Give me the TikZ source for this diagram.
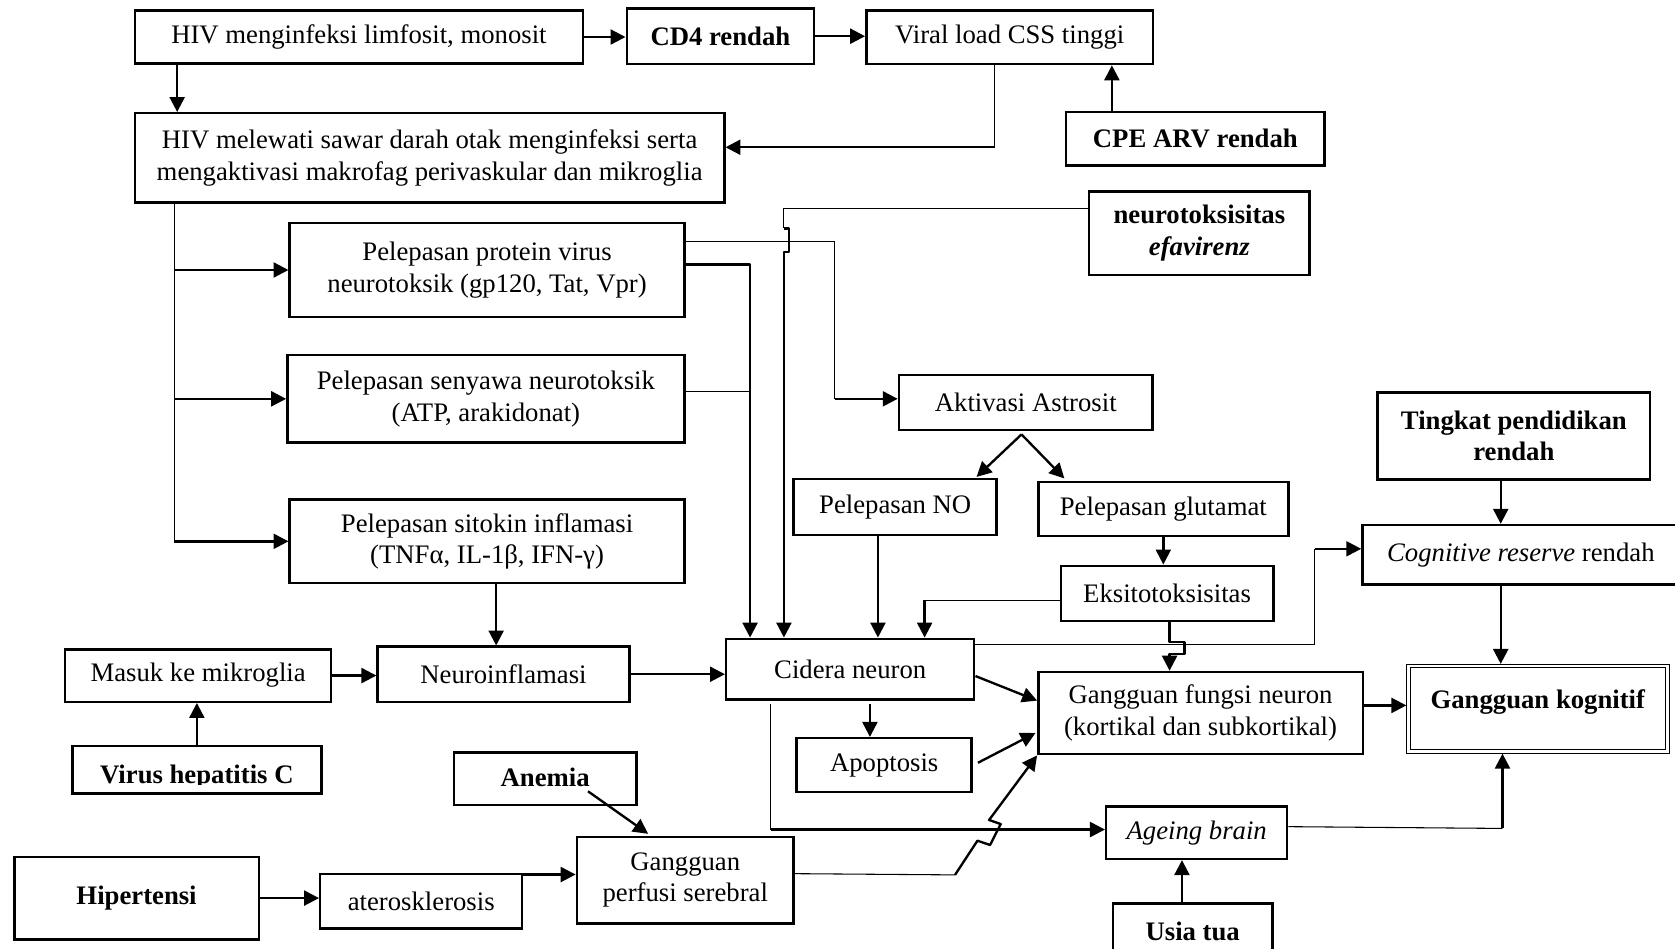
\documentclass[tikz,border=0pt]{standalone}
\usepackage{fontspec}
\setmainfont{Liberation Serif}
\usetikzlibrary{arrows.meta,calc}
\tikzset{
  bx/.style={draw, rectangle, line width=1.15pt, inner sep=0pt, align=center, font=\fontsize{12.5}{14.8}\selectfont},
  txt/.style={inner sep=0pt, font=\fontsize{12.5}{14.8}\selectfont},
  arr/.style={line width=1.1pt, line join=round, -{Triangle[length=7pt,width=7pt]}},
  thinl/.style={line width=0.5pt},
}
\newcommand\mybox[7][]{\node[bx,#1,minimum width={0.5pt*(#5-#3)},minimum height={0.5pt*(#6-#4)}] (#2) at ({(#3+#5)/2},{(#4+#6)/2}) {#7};}
\begin{document}
\begin{tikzpicture}[x=0.5pt,y=-0.5pt]
\useasboundingbox (0,0) rectangle (1568,888);
\fill[white] (0,0) rectangle (1568,888);
% boxes
\mybox{hiv1}{126.4}{10}{545.6}{59.3}{HIV menginfeksi limfosit, monosit}
\mybox{cd4}{586.7}{7.8}{762}{60}{\textbf{CD4 rendah}}
\mybox{viral}{811}{10}{1079.5}{60}{Viral load CSS tinggi}
\mybox{cpe}{998}{105}{1240}{155}{\textbf{CPE ARV rendah}}
\mybox{hiv2}{126.4}{106}{678}{189.7}{HIV melewati sawar darah otak menginfeksi serta\\mengaktivasi makrofag perivaskular dan mikroglia}
\mybox{efv}{1019.5}{179.4}{1226}{257.5}{\textbf{neurotoksisitas}\\\textbf{\textit{efavirenz}}}
\mybox{prot}{271.2}{209}{640.7}{296.5}{Pelepasan protein virus\\neurotoksik (gp120, Tat, Vpr)}
\mybox{seny}{269}{332.3}{640.7}{414.4}{Pelepasan senyawa neurotoksik\\(ATP, arakidonat)}
\mybox{sito}{271.2}{467.5}{640.7}{546}{Pelepasan sitokin inflamasi\\(TNFα, IL-1β, IFN-γ)}
\mybox{astro}{841.5}{351}{1079}{402.5}{Aktivasi Astrosit}
\mybox{no}{743}{448.6}{933}{501}{Pelepasan NO}
\mybox{glut}{972}{451}{1206}{502}{Pelepasan glutamat}
\mybox{eks}{993}{529.6}{1192}{581.4}{Eksitotoksisitas}
\mybox{ting}{1289.7}{367.6}{1544.6}{448.7}{\textbf{Tingkat pendidikan}\\\textbf{rendah}}
\mybox{cogn}{1275.4}{491.5}{1572}{547}{\textit{Cognitive reserve} rendah}
\mybox{cid}{679.8}{598}{912}{654.6}{Cidera neuron}
\mybox{masuk}{61}{607.9}{310}{656.9}{Masuk ke mikroglia}
\mybox{neuro}{353.5}{605.4}{589.2}{656.9}{Neuroinflamasi}
\mybox{vhc}{67.7}{698.4}{300.9}{742.7}{}
\mybox{gf}{972}{629}{1275.7}{706}{Gangguan fungsi neuron\\(kortikal dan subkortikal)}
\mybox[line width=0.5pt]{gk}{1317}{622}{1562.5}{705}{}
\draw[line width=0.5pt] ($(gk.south west)+(3.5,-3.5)$) rectangle ($(gk.north east)+(-3.5,3.5)$);
\mybox{apo}{745.8}{691}{909.6}{741.5}{Apoptosis}
\mybox{anem}{425.2}{704.3}{595.7}{753.6}{}
\mybox{age}{1035.5}{755}{1205}{804}{\textit{Ageing brain}}
\mybox{perf}{540}{783.3}{743}{864.4}{Gangguan\\perfusi serebral}
\mybox{hip}{13.5}{802}{242.2}{879.4}{\textbf{Hipertensi}}
\mybox{ater}{299.8}{818.2}{488.9}{869}{aterosklerosis}
\mybox{usia}{1042}{845.6}{1191}{895}{}
% texts placed separately
\node[txt,anchor=base] (gkt) at (1439.7,663) {\textbf{Gangguan kognitif}};
\begin{scope}
  \clip (60,690) rectangle (310,734);
  \node[txt,anchor=base] (vhct) at (184.3,733) {\textbf{Virus hepatitis C}};
\end{scope}
\node[txt,anchor=base] (anemt) at (510.3,736.4) {\textbf{Anemia}};
\node[txt,anchor=base] (usiat) at (1116.5,880) {\textbf{Usia tua}};
% top row
\draw[arr] (hiv1.east) -- (hiv1.east -| cd4.west);
\draw[arr] (cd4.east) -- (cd4.east -| viral.west);
\coordinate (a1) at ($(hiv1.south west)+(40.6,0)$);
\draw[arr] (a1) -- (a1 |- hiv2.north);
\coordinate (b1) at ($(viral.south west)+(121.5,0)$);
\coordinate (b2) at ($(hiv2.north east)+(0,33)$);
\draw[thinl] (b1) -- (b1 |- b2);
\draw[arr] (b1 |- b2) -- (b2);
\coordinate (c1) at ($(cpe.north west)+(44,0)$);
\draw[arr] (c1) -- (c1 |- viral.south);
% trunk
\coordinate (t0) at ($(hiv2.south west)+(38.1,0)$);
\draw[thinl] (t0) -- (t0 |- sito.west);
\draw[arr] (t0 |- prot.west) -- (prot.west);
\draw[arr] (t0 |- seny.west) -- (seny.west);
\draw[arr] (t0 |- sito.west) -- (sito.west);
\coordinate (s1) at ($(sito.south west)+(194.4,0)$);
\draw[arr] (s1) -- (s1 |- neuro.north);
\draw[arr] (masuk.east) -- (masuk.east -| neuro.west);
\draw[arr] (neuro.east) -- (neuro.east -| cid.west);
\draw[arr] (vhc.north) -- (vhc.north |- masuk.south);
% protein -> cidera, senyawa join
\coordinate (p1) at ($(prot.north east)+(0,39.7)$);
\coordinate (p2) at ($(cid.north west)+(23.5,0)$);
\draw[arr] (p1) -| (p2);
\coordinate (p3) at ($(seny.north east)+(0,35.3)$);
\draw[thinl] (p3) -- (p3 -| p2);
% protein -> astrosit
\coordinate (p4) at ($(prot.north east)+(0,18.2)$);
\coordinate (p5) at ($(astro.north west)+(-58.9,23.5)$);
\draw[thinl] (p4) -| (p5);
\draw[arr] (p5) -- (p5 -| astro.west);
% efavirenz -> cidera with hop
\coordinate (e1) at ($(efv.north west)+(0,17.2)$);
\coordinate (e2) at ($(cid.north west)+(55.2,0)$);
\coordinate (e3) at (e2 |- e1);
\draw[thinl] (e1) -- (e3) -- ++(0,18.4);
\draw[arr] ($(e3)+(0,18.4)$) -- ++(4.5,0) -- ++(0,22) -- ++(-4.5,0) -- (e2);
% astrosit
\coordinate (as) at ($(astro.south)+(-4,3)$);
\draw[arr] (as) -- ($(no.north east)+(-20,-1)$);
\draw[arr] (as) -- ($(glut.north west)+(25.5,-2)$);
\draw[arr] (glut.south) -- (glut.south |- eks.north);
\coordinate (n1) at ($(no.south west)+(80,0)$);
\draw[arr] (n1) -- (n1 |- cid.north);
\coordinate (k1) at ($(cid.north west)+(186.9,-35)$);
\draw[thinl] (k1 -| eks.west) -- (k1);
\draw[arr] (k1) -- (k1 |- cid.north);
\coordinate (g0) at ($(eks.south west)+(103,0)$);
\draw[arr] (g0) -- ++(0,18.4) -- ++(14,0) -- ++(0,11.2) -- ++(-14,0) -- (g0 |- gf.north);
% cidera -> cognitive reserve
\coordinate (q0) at ($(cid.north east)+(0,6.8)$);
\coordinate (q1) at ($(cogn.north west)+(-43.7,23.4)$);
\draw[thinl] (q0) -| (q1);
\draw[arr] (q1) -- (q1 -| cogn.west);
% right column
\coordinate (r1) at ($(ting.south west)+(116.3,0)$);
\draw[arr] (r1) -- (r1 |- cogn.north);
\coordinate (r2) at ($(cogn.south west)+(130.6,0)$);
\draw[arr] (r2) -- (r2 |- gk.north);
\coordinate (r3) at ($(gf.north east)+(0,32.5)$);
\draw[arr] (r3) -- (r3 -| gk.west);
% cidera outputs
\draw[arr] ($(cid.north east)+(0,36)$) -- ($(gf.north west)+(0,28)$);
\coordinate (u1) at ($(cid.south west)+(135.7,3.4)$);
\draw[arr] (u1) -- (u1 |- apo.north);
\draw[arr] ($(apo.north east)+(4.7,24.2)$) -- ($(gf.south west)+(-1.5,-21)$);
\coordinate (v1) at ($(cid.south west)+(42.9,3)$);
\coordinate (v2) at ($(age.north west)+(0,22.7)$);
\draw[thinl] (v1) -- (v1 |- v2);
\draw[arr] (v1 |- v2) -- (v2);
% perfusi zigzag
\coordinate (z0) at ($(perf.north east)+(0,35.7)$);
\coordinate (z1) at (894,819);
\coordinate (z2) at (915,787);
\coordinate (z3) at (926.8,791);
\coordinate (z4) at (936.8,771.4);
\coordinate (z5) at (925.9,767.6);
\draw[thinl] (z0) -- (z1);
\draw[arr] (z1) -- (z2) -- (z3) -- (z4) -- (z5) -- (gf.south west);
% ageing -> gk
\coordinate (w0) at ($(age.north east)+(0,20)$);
\coordinate (w1) at ($(gk.south west)+(90,70)$);
\draw[thinl] (w0) -- (w1);
\draw[arr] (w1) -- (w1 |- gk.south);
\coordinate (x1) at ($(usia.north west)+(65.6,0)$);
\draw[arr] (x1) -- (x1 |- age.south);
% bottom left
\draw[arr] (hip.east) -- (hip.east -| ater.west);
\coordinate (y1) at ($(ater.north east)+(0,1.6)$);
\draw[arr] (y1) -- (y1 -| perf.west);
\draw[arr] ($(anem.south west)+(126.4,-14)$) -- ($(perf.north west)+(67.9,-1.6)$);
\end{tikzpicture}
\end{document}
